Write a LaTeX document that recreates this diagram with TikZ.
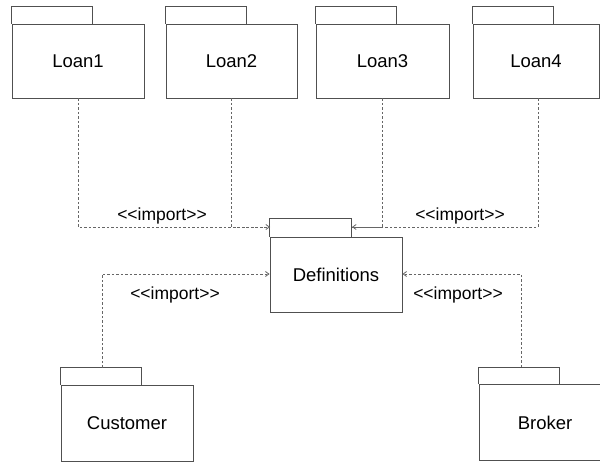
\documentclass[tikz,border=0pt]{standalone}
\usepackage{fontspec}
\setmainfont{Liberation Sans}[Ligatures=TeXOff]
\usetikzlibrary{arrows.meta}
\definecolor{linegray}{HTML}{505050}
\definecolor{dashgray}{HTML}{666666}
\tikzset{
  pkg/.style={draw=linegray, line width=0.9pt, minimum width=132pt, minimum height=75pt,
    inner sep=0pt, font=\fontsize{18.5}{21}\selectfont, text=black},
  tab/.style={draw=linegray, line width=0.9pt},
  dep/.style={draw=dashgray, line width=0.8pt, dash pattern=on 2.5pt off 2pt,
    -{Straight Barb[length=3.5pt,width=5pt]}},
  lbl/.style={font=\fontsize{17.5}{20}\selectfont, text=black, inner sep=0pt}
}
\begin{document}
\begin{tikzpicture}[x=1pt,y=-1pt]
\useasboundingbox[fill=white] (0,0) rectangle (600,462);
% packages
\node[pkg, minimum height=74pt] (l1) at (78,61) {Loan1};
\node[pkg, minimum width=131pt, minimum height=74pt] (l2) at (231.5,61) {Loan2};
\node[pkg, minimum width=133pt, minimum height=74pt] (l3) at (382.5,61) {Loan3};
\node[pkg, minimum width=126pt, minimum height=74pt] (l4) at (536,61) {Loan4};
\node[pkg] (def) at (336,274.5) {Definitions};
\node[pkg, minimum height=76pt] (cus) at (127,423) {Customer};
\node[pkg, minimum height=76pt] (bro) at (545,422.5) {Broker};
% tabs
\foreach \n in {l1,l2,l3,l4,cus,bro}{
  \draw[tab] (\n.north west) -- ++(0,-17) -- ++(81,0) -- ++(0,17);
}
\draw[tab] (def.north west) -- ++(0,-18) -- ++(82,0) -- ++(0,18);
% junction coordinates
\coordinate (jl) at (78,227);
\coordinate (jr) at (538,227);
\coordinate (tl) at (270,227);
\coordinate (tr) at (352,227);
\coordinate (cl) at (102,274);
\coordinate (br) at (521,274);
% dependencies
\draw[dep] (l1.south) -- (jl) -- (tl);
\draw[dep, -] (l2.south) |- (tl);
\draw[dep] (l4.south -| jr) -- (jr) -- (tr);
\draw[dep, -] (l3.south) |- (tr);
\draw[dep] ([yshift=17pt]cus.north -| cl) -- (cl) -- (cl -| def.west);
\draw[dep] ([yshift=17pt]bro.north -| br) -- (br) -- (br -| def.east);
% labels
\node[lbl] (i1) at (162,216) {<<import>>};
\node[lbl] (i2) at (460,216) {<<import>>};
\node[lbl] (i3) at (175,295) {<<import>>};
\node[lbl] (i4) at (458,295) {<<import>>};
\end{tikzpicture}
\end{document}
